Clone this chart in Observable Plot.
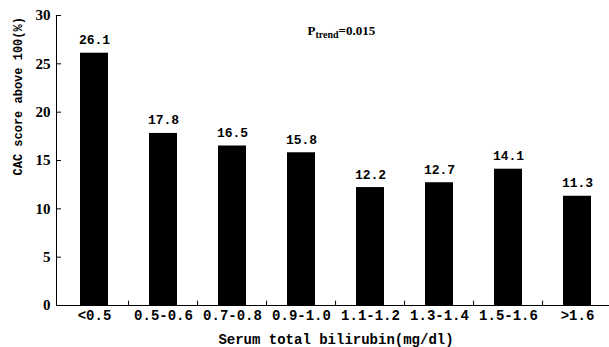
<!DOCTYPE html>
<html><head><meta charset="utf-8">
<script src="https://cdn.jsdelivr.net/npm/d3@7"></script>
<script src="https://cdn.jsdelivr.net/npm/@observablehq/plot@0.6"></script>
<style>body{margin:0;background:#fff}</style>
</head><body><div id="chart"></div>
<script>
const categories = ["<0.5","0.5-0.6","0.7-0.8","0.9-1.0","1.1-1.2","1.3-1.4","1.5-1.6",">1.6"];
const values = [26.1,17.8,16.5,15.8,12.2,12.7,14.1,11.3];
const yTicks = [0,5,10,15,20,25,30];
const xLabel = "Serum total bilirubin(mg/dl)";
const yLabel = "CAC score above 100(%)";
const pMain = "P", pSub = "trend", pValue = "=0.015";

const data = categories.map((c, i) => ({category: c, value: values[i]}));
const mono = "'Liberation Mono', 'DejaVu Sans Mono', monospace";
const serif = "'Liberation Serif', 'Times New Roman', serif";
const W = 609, H = 347, ML = 56, MR = -6;
const step = (W - MR - ML) / categories.length;

const chart = Plot.plot({
  width: W, height: H, marginLeft: ML, marginRight: MR, marginTop: 15, marginBottom: 42,
  style: {background: "#fff", color: "#000"},
  x: {domain: categories, paddingInner: 0.6, paddingOuter: 0.3, label: null},
  y: {domain: [0, 30], label: null},
  marks: [
    Plot.barY(data, {x: "category", y: "value", fill: "black"}),
    Plot.text(data, {x: "category", y: "value", text: d => d.value.toFixed(1), dy: -9, lineAnchor: "bottom",
      fontFamily: mono, fontWeight: "bold", fontSize: 13, fill: "black"}),
    Plot.axisY({ticks: yTicks, tickSize: -5, tickPadding: 11, fontFamily: serif, fontWeight: "bold", fontSize: 15, label: null, stroke: "black", fill: "black"}),
    Plot.axisX({tickSize: 0, tickPadding: 5, fontFamily: mono, fontWeight: "bold", fontSize: 14, label: null, fill: "black"}),
    Plot.ruleX(categories.slice(1), {x: d => d, y1: 0, y2: 0.45, dx: -step / 2, stroke: "black"}),
    Plot.frame({anchor: "left", stroke: "black"}),
    Plot.frame({anchor: "bottom", stroke: "black"}),
    Plot.text([xLabel], {text: d => d, frameAnchor: "bottom", dy: 34, lineAnchor: "middle",
      fontFamily: mono, fontWeight: "bold", fontSize: 14, fill: "black"}),
    Plot.text([yLabel], {text: d => d, frameAnchor: "left", rotate: -90, dx: -38, dy: 15, lineAnchor: "middle",
      fontFamily: mono, fontWeight: "bold", fontSize: 12, fill: "black"}),
    Plot.text([pMain + pSub + pValue], {text: d => d, frameAnchor: "top-left", dx: 251, dy: 19, textAnchor: "start", lineAnchor: "bottom",
      fontFamily: serif, fontWeight: "bold", fontSize: 13, fill: "black"})
  ]
});
document.getElementById("chart").appendChild(chart);

// Subscript for P_trend
d3.select(chart).selectAll("text").filter(function() { return this.textContent === pMain + pSub + pValue; })
  .each(function() {
    const t = d3.select(this);
    t.text(null);
    t.append("tspan").text(pMain);
    t.append("tspan").attr("font-size", 10).attr("dy", 3).text(pSub);
    t.append("tspan").attr("dy", -3).text(pValue);
  });
</script>
</body></html>
